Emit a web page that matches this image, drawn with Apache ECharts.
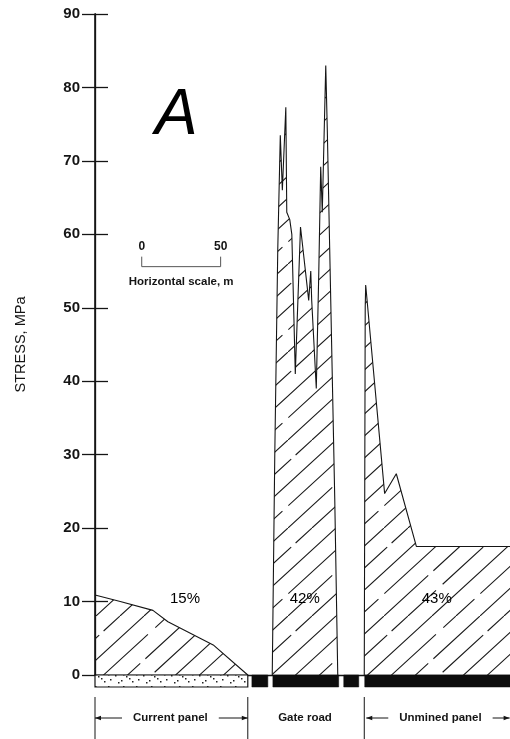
<!DOCTYPE html>
<html>
<head>
<meta charset="utf-8">
<script src="https://cdn.jsdelivr.net/npm/echarts@6/dist/echarts.min.js"></script>
<style>
  html, body { margin: 0; padding: 0; background: #fff; }
  #chart { width: 510px; height: 739px; }
</style>
</head>
<body>
<div id="chart"></div>
<script>
// Abutment stress across the longwall section. Distance in metres from the
// current panel's goaf edge, stress in MPa.
const currentPanel = [[0, 10.9], [16, 10.0], [36.7, 8.8], [46.2, 7.25], [74.9, 4.1], [96.8, 0]];
const gateRoad = [
  [112.3, 0], [113.9, 30], [115.8, 58], [117.4, 73.5], [118.7, 66], [120.9, 77.3],
  [121.5, 63], [123.4, 62], [124.7, 60], [126.9, 41], [130.2, 61], [135.4, 51],
  [136.7, 55], [137.3, 51], [140.2, 39], [141.8, 55], [143.0, 69.2], [144.0, 63],
  [146.2, 83], [147.2, 74], [148.7, 58], [151.9, 24], [153.8, 0]
];
const unminedPanel = [[170.6, 0], [171.2, 50], [171.5, 53.1], [183.5, 24.7], [190.9, 27.4], [203.6, 17.5], [268, 17.5]];

// Share of the load carried by each zone
const shareLabels = ['15%', '42%', '43%'];
const sharePoints = [[57, 10.4], [132.9, 10.4], [216.5, 10.4]];

// Ground strip under the profile: goaf rubble, then coal pillars / solid coal
const floorStrip = [[0, 96.8, 'goaf'], [99.4, 109.5, 'coal'], [112.7, 154.4, 'coal'], [157.6, 167.1, 'coal'], [170.9, 268, 'coal']];

// Zones named under the strip
const zones = [['Current panel', 0, 96.8, 'span'], ['Gate road', 112.3, 153.8, 'plain'], ['Unmined panel', 170.6, 262.7, 'open']];

// Scale bar: start (m), height on the stress axis (MPa), length (m)
const scaleBar = [29.6, 55.6, 50];

const stressTicks = { min: 0, max: 90, step: 10 };
const distanceRange = { min: 0, max: 268 };

const FONT = '"Liberation Sans", Arial, Helvetica, sans-serif';
const INK = '#151515';

// Diagonal, slightly broken hatch used to fill the stress areas
function hatchTile() {
  const W = 96, H = 88;
  const c = document.createElement('canvas');
  c.width = W; c.height = H;
  const g = c.getContext('2d');
  g.strokeStyle = '#1a1a1a';
  g.lineWidth = 1.1;
  const dashes = [[60, 7, 63], [38, 9, 55, 6, 22], [130, 0], [25, 8, 70, 10, 17]];
  for (let k = 0; k < 4; k++) {
    const o = k * W / 4;
    g.setLineDash(dashes[k]);
    for (const s of [o, o - W]) {
      g.beginPath();
      g.moveTo(s, H);
      g.lineTo(s + W, 0);
      g.stroke();
    }
  }
  return c;
}

// Speckled texture for the goaf strip
function speckleTile() {
  const c = document.createElement('canvas');
  c.width = 28; c.height = 12;
  const g = c.getContext('2d');
  g.fillStyle = '#fff';
  g.fillRect(0, 0, 28, 12);
  g.fillStyle = '#222';
  const dots = [[3, 3], [9, 8], [14, 4], [20, 9], [24, 2], [6, 10], [17, 6], [26, 7], [11, 2]];
  dots.forEach(([x, y]) => g.fillRect(x, y, 1.5, 1.5));
  return c;
}

const hatch = { image: hatchTile(), repeat: 'repeat' };
const speckle = { image: speckleTile(), repeat: 'repeat' };

function areaSeries(data) {
  return {
    type: 'line',
    data: data,
    symbol: 'none',
    lineStyle: { color: INK, width: 1.1 },
    areaStyle: { color: hatch, opacity: 1 },
    silent: true,
    z: 3
  };
}

function arrow(x1, x2, y, headAtStart) {
  const tip = headAtStart ? x1 : x2;
  const dir = headAtStart ? 1 : -1;
  return [
    { type: 'line', shape: { x1: x1, y1: y, x2: x2, y2: y }, style: { stroke: INK, lineWidth: 1 } },
    { type: 'polygon', shape: { points: [[tip, y], [tip + dir * 6, y - 2.2], [tip + dir * 6, y + 2.2]] }, style: { fill: INK } }
  ];
}

const chart = echarts.init(document.getElementById('chart'), null, { renderer: 'canvas' });

chart.setOption({
  animation: false,
  backgroundColor: '#fff',
  grid: { left: 95, right: -8, top: 14, bottom: 64, outerBoundsMode: 'none' },
  xAxis: [
    { type: 'value', min: distanceRange.min, max: distanceRange.max, position: 'bottom',
      axisLine: { show: false }, axisTick: { show: false }, axisLabel: { show: false }, splitLine: { show: false } },
    { type: 'value', min: distanceRange.min, max: distanceRange.max, position: 'top',
      axisLine: { show: true, lineStyle: { color: INK, width: 1.3 } }, axisTick: { show: false },
      axisLabel: { show: false }, splitLine: { show: false } }
  ],
  yAxis: [
    { type: 'value', min: stressTicks.min, max: stressTicks.max, interval: stressTicks.step, position: 'left',
      name: 'STRESS, MPa', nameLocation: 'middle', nameGap: 67, nameRotate: 90,
      nameTextStyle: { fontFamily: FONT, fontSize: 14.5, color: INK },
      axisLine: { show: true, lineStyle: { color: INK, width: 1.6 } },
      axisTick: { show: true, inside: true, length: 13, lineStyle: { color: INK, width: 1.3 } },
      axisLabel: { margin: 15, fontFamily: FONT, fontSize: 15, fontWeight: 'bold', color: INK },
      splitLine: { show: false } },
    { type: 'value', min: stressTicks.min, max: stressTicks.max, interval: stressTicks.step, position: 'right',
      axisLine: { show: true, lineStyle: { color: INK, width: 1.3 } },
      axisTick: { show: true, inside: true, length: 13, lineStyle: { color: INK, width: 1.3 } },
      axisLabel: { show: false }, splitLine: { show: false } }
  ],
  graphic: [
    { type: 'text', left: 155, top: 84,
      style: { text: 'A', font: 'italic 64px ' + FONT, fill: '#000' } }
  ],
  series: [
    areaSeries(currentPanel),
    areaSeries(gateRoad),
    areaSeries(unminedPanel),
    {
      type: 'scatter',
      data: sharePoints.map((p, i) => ({ value: p, name: shareLabels[i] })),
      symbolSize: 0,
      silent: true,
      z: 5,
      itemStyle: { opacity: 1 },
      label: { show: true, position: 'inside', formatter: '{b}', opacity: 1,
        fontFamily: FONT, fontSize: 15, color: '#000', textBorderWidth: 0 }
    },
    {
      type: 'custom',
      clip: false,
      silent: true,
      z: 6,
      data: floorStrip.map(s => [s[0], s[1]]),
      encode: { x: [0, 1] },
      renderItem: function (params, api) {
        const seg = floorStrip[params.dataIndex];
        const a = api.coord([seg[0], 0]);
        const b = api.coord([seg[1], 0]);
        const goaf = seg[2] === 'goaf';
        return {
          type: 'rect',
          shape: { x: a[0], y: a[1], width: b[0] - a[0], height: 12 },
          style: goaf ? { fill: speckle, stroke: INK, lineWidth: 1.2 } : { fill: '#0d0d0d', stroke: '#0d0d0d', lineWidth: 0.5 }
        };
      }
    },
    {
      type: 'custom',
      clip: false,
      silent: true,
      z: 6,
      data: zones.map(z => [z[1], z[2]]),
      encode: { x: [0, 1] },
      renderItem: function (params, api) {
        const z = zones[params.dataIndex];
        const p1 = api.coord([z[1], 0]);
        const p2 = api.coord([z[2], 0]);
        const y0 = p1[1];
        const ly = y0 + 43;
        const children = [];
        let textX = (p1[0] + p2[0]) / 2;
        const vline = x => ({ type: 'line', shape: { x1: x, y1: y0 + 22, x2: x, y2: y0 + 80 }, style: { stroke: INK, lineWidth: 1 } });
        if (z[3] === 'span') {
          children.push(vline(p1[0]), vline(p2[0]));
          children.push(...arrow(p1[0], p1[0] + 27, ly, true));
          children.push(...arrow(p2[0] - 29, p2[0], ly, false));
          textX = (p1[0] + 27 + p2[0] - 29) / 2;
        } else if (z[3] === 'open') {
          children.push(vline(p1[0]));
          children.push(...arrow(p1[0] + 2, p1[0] + 24, ly, true));
          children.push(...arrow(p2[0] - 17, p2[0], ly, false));
          textX = (p1[0] + 24 + p2[0] - 17) / 2;
        }
        children.push({
          type: 'text',
          style: { text: z[0], x: textX, y: ly, align: 'center', verticalAlign: 'middle',
            fontFamily: FONT, fontSize: 11.5, fontWeight: 'bold', fill: INK }
        });
        return { type: 'group', children: children };
      }
    },
    {
      type: 'custom',
      clip: false,
      silent: true,
      z: 6,
      data: [[scaleBar[0], scaleBar[1], scaleBar[2]]],
      encode: { x: 0, y: 1 },
      renderItem: function (params, api) {
        const a = api.coord([scaleBar[0], scaleBar[1]]);
        const b = api.coord([scaleBar[0] + scaleBar[2], scaleBar[1]]);
        const txt = (t, x, y, size) => ({
          type: 'text',
          style: { text: t, x: x, y: y, align: 'center', verticalAlign: 'middle',
            fontFamily: FONT, fontSize: size, fontWeight: 'bold', fill: INK }
        });
        return {
          type: 'group',
          children: [
            { type: 'polyline', shape: { points: [[a[0], a[1] - 10], [a[0], a[1]], [b[0], b[1]], [b[0], b[1] - 10]] },
              style: { stroke: '#555', lineWidth: 1, fill: null } },
            txt('0', a[0], a[1] - 20, 12),
            txt(String(scaleBar[2]), b[0], b[1] - 20, 12),
            txt('Horizontal scale, m', (a[0] + b[0]) / 2, a[1] + 15, 11.5)
          ]
        };
      }
    }
  ]
});
</script>
</body>
</html>
